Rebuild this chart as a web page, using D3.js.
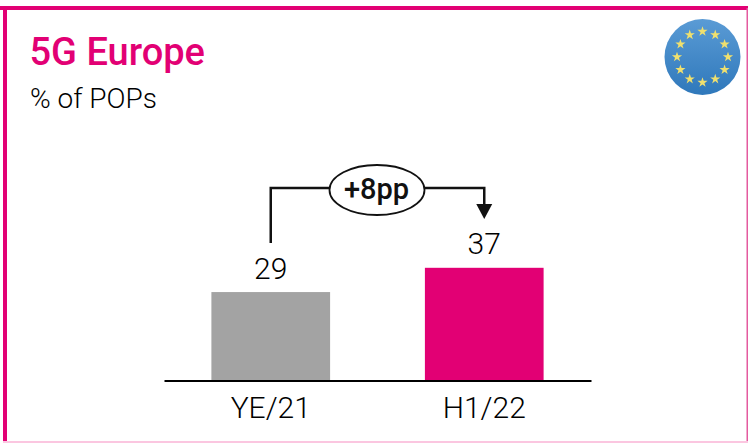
<!DOCTYPE html>
<html><head><meta charset="utf-8">
<script src="https://cdn.jsdelivr.net/npm/d3@7/dist/d3.min.js"></script>
<style>html,body{margin:0;padding:0;background:#fff}svg{display:block}text{font-family:Roboto,sans-serif}</style>
</head><body><svg id="c" width="748" height="443"></svg>
<script>
const categories = ["YE/21","H1/22"];
const values = [29,37];
const barColors = ["#a3a3a3","#e20074"];
const title = "5G Europe";
const subtitle = "% of POPs";
const deltaLabel = "+8pp";
const svg = d3.select("#c");
const defs = svg.append("defs");
const g = defs.append("linearGradient").attr("id","flag").attr("x1",0).attr("y1",0).attr("x2",0).attr("y2",1);
g.append("stop").attr("offset","0").attr("stop-color","#5a9bd5");
g.append("stop").attr("offset","1").attr("stop-color","#2f78bb");
// frame
svg.append("rect").attr("x",0).attr("y",6).attr("width",748).attr("height",4).attr("fill","#e20074");
svg.append("rect").attr("x",3).attr("y",6).attr("width",4).attr("height",437).attr("fill","#e20074");
svg.append("rect").attr("x",746.5).attr("y",8).attr("width",1.5).attr("height",435).attr("fill","#e45a9f");
svg.append("rect").attr("x",3).attr("y",441).attr("width",745).attr("height",2).attr("fill","#fbc6e0");
// titles
svg.append("text").attr("x",29.5).attr("y",65).attr("font-size",38).attr("font-weight",500).attr("fill","#e20074").text(title);
svg.append("text").attr("x",30).attr("y",108).attr("font-size",28).attr("font-weight",300).attr("fill","#000").text(subtitle);
// flag
const fx=702.5,fy=57;
svg.append("circle").attr("cx",fx).attr("cy",fy).attr("r",38).attr("fill","url(#flag)");
const star=d3.symbol().type(d3.symbolStar).size(32);
svg.selectAll(".s").data(d3.range(12)).join("path").attr("d",star)
 .attr("fill","#f0e06e")
 .attr("transform",i=>`translate(${fx+25.5*Math.sin(i*Math.PI/6)},${fy-25.5*Math.cos(i*Math.PI/6)})`);
// scales
const x=d3.scaleBand().domain(categories).range([164,591]).paddingInner(0.444).paddingOuter(0.222);
const y=d3.scaleLinear().domain([0,37]).range([380,267.8]);
svg.selectAll(".b").data(values).join("rect")
 .attr("x",(d,i)=>x(categories[i])).attr("y",d=>y(d))
 .attr("width",x.bandwidth()).attr("height",d=>380-y(d))
 .attr("fill",(d,i)=>barColors[i]);
const axis=svg.append("g").attr("transform","translate(0,380.5)")
 .call(d3.axisBottom(x).tickSize(0).tickPadding(16));
axis.select(".domain").attr("stroke","#000").attr("stroke-width",2);
axis.selectAll("text").attr("font-size",30).attr("font-weight",300).attr("fill","#000")
 .attr("font-family","Roboto,sans-serif");
// values
svg.selectAll(".v").data(values).join("text")
 .attr("x",(d,i)=>x(categories[i])+x.bandwidth()/2).attr("y",d=>y(d)-13.5)
 .attr("text-anchor","middle").attr("font-size",30).attr("font-weight",300).attr("fill","#000").text(d=>d);
// connector
const cx0=x(categories[0])+x.bandwidth()/2, cx1=x(categories[1])+x.bandwidth()/2;
const lineY=188;
svg.append("path").attr("d",d3.line()([[cx0,243],[cx0,lineY],[cx1,lineY],[cx1,206]]))
 .attr("fill","none").attr("stroke","#111").attr("stroke-width",2.5);
svg.append("path").attr("d",d3.line()([[cx1-8,204],[cx1+8,204],[cx1,219]])+"Z").attr("fill","#111");
svg.append("ellipse").attr("cx",377).attr("cy",190).attr("rx",47.5).attr("ry",25)
 .attr("fill","#fff").attr("stroke","#111").attr("stroke-width",1.8);
svg.append("text").attr("x",376.5).attr("y",199).attr("text-anchor","middle").attr("font-size",29).attr("font-weight",500).attr("fill","#111").text(deltaLabel);
</script></body></html>
